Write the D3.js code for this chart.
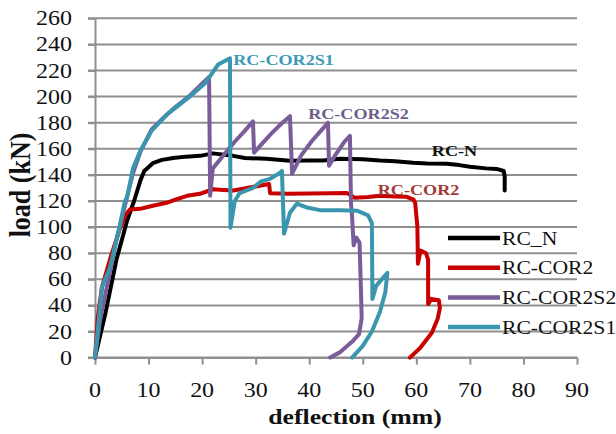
<!DOCTYPE html>
<html>
<head>
<meta charset="utf-8">
<script src="https://cdn.jsdelivr.net/npm/d3@7"></script>
<style>
  body { margin: 0; background: #fff; }
  text { font-family: "Liberation Serif", "Times New Roman", Times, serif; }
</style>
</head>
<body>
<svg width="616" height="434"></svg>
<script>
// deflection (mm), load (kN) pairs
const rcN = [[0,0],[2,35],[4,75],[6,105],[7.3,120],[8.5,136],[9.2,143],[10.8,149],[12.5,151.5],[14.6,153],[17,154],[19.6,154.6],[22,156.5],[25.8,154.6],[28,153],[32,152.3],[36.4,150.8],[40,151],[42.6,151],[45.7,152.3],[50,152],[53.2,151],[56,150.5],[59.4,149.3],[62,148.8],[65.7,148.5],[68,147.5],[70,146.2],[73,145],[75,144.6],[76.3,143],[76.5,139],[76.5,128]];

const rcCor2 = [[0,0],[0.5,30],[1.3,54],[3,78],[4.5,97],[5.8,110],[6.5,113.4],[8.4,114],[10.8,116.4],[13.4,118.6],[15,121],[17.2,124],[19.6,125.5],[22,129],[24,128.5],[25.8,128],[28.4,130],[30.5,131.5],[32.5,133],[32.7,126],[36,125.5],[40,125.8],[44,126],[47,126.2],[48.5,122.5],[51,123],[53.2,124],[56,123.5],[58.2,123.2],[59.5,121],[59.8,118],[60.2,100],[60.3,72],[60.8,82],[61.8,80],[62.2,75],[62.2,41],[62.8,45],[64.2,44],[64.4,38],[64,30],[62.9,19],[60.7,7.3],[58.8,0]];

const rcCor2s2 = [[0,0],[1,30],[2.5,60],[4,90],[5.5,115],[7,140],[8.5,158],[10.6,175],[13.1,185],[15,192],[17.5,200],[19.5,208],[21.3,215],[21.5,124],[22,145],[24,155],[26,165],[28,174],[29.5,181],[29.7,157],[31,163],[33,172],[35,180],[36.4,185],[36.8,141],[38.5,155],[40.5,166],[42,173],[43.5,180],[43.7,147],[45,156],[46.5,165],[47.6,170],[47.8,118],[48,108],[48.3,86],[48.8,92],[49.4,88],[49.6,60],[49.8,30],[49.3,18],[48.2,13],[45.7,4],[43.9,0]];

const rcCor2s1 = [[0,0],[0.5,20],[1.3,54],[2.8,69],[4.3,95],[5.6,120],[6,123],[7.1,145],[8.4,158],[10.6,174],[13.6,187],[14.9,191],[17.4,199],[20.5,210],[23,224.6],[25.2,229.4],[25.3,99.5],[26.1,120],[27,126],[29.5,130],[31,135],[32.7,137],[34.5,141.5],[34.9,143],[35.3,95],[36.4,111],[37.7,118],[39.6,115],[42,113],[45.7,113],[49,112.5],[51,109],[51.7,103],[51.8,45],[52.5,55],[54.6,65],[54.2,50],[53.2,35],[51.7,20],[50,9],[48,0]];

const seriesNames = ["RC_N", "RC-COR2", "RC-COR2S2", "RC-COR2S1"];
const seriesColors = ["#000000", "#c80000", "#7a5c9a", "#3a96ae"];
const seriesData = [rcN, rcCor2, rcCor2s2, rcCor2s1];

// labels written inside the plot
const noteTexts = ["RC-COR2S1", "RC-COR2S2", "RC-N", "RC-COR2"];
const noteAt = [[25.8, 224.5], [39.8, 182.5], [62.9, 154.5], [52.8, 124.5]];
const noteColors = ["#3d9ab3", "#6e5f8c", "#111111", "#a33a3a"];

const xTicks = [0, 10, 20, 30, 40, 50, 60, 70, 80, 90];
const yTicks = [0, 20, 40, 60, 80, 100, 120, 140, 160, 180, 200, 220, 240, 260];

const svg = d3.select("svg");
const sx = 1.17; // the original picture is stretched sideways

const x = d3.scaleLinear().domain([0, 90]).range([95, 577]);
const y = d3.scaleLinear().domain([0, 260]).range([357.6, 18.3]);

svg.append("rect").attr("width", 616).attr("height", 434).attr("fill", "#fff");

function label(g, px, py, str, size, anchor, weight, color, rot) {
  return g.append("text")
    .attr("transform", `translate(${px},${py}) scale(${sx},1)` + (rot ? ` rotate(${rot})` : ""))
    .attr("text-anchor", anchor)
    .style("font-size", size + "px")
    .style("font-weight", weight)
    .style("fill", color)
    .text(str);
}

// gridlines
svg.append("g")
  .selectAll("line")
  .data(yTicks)
  .join("line")
  .attr("x1", 88)
  .attr("x2", x(90))
  .attr("y1", d => y(d))
  .attr("y2", d => y(d))
  .attr("stroke", "#8f8f8f")
  .attr("stroke-width", 2);

// axes
svg.append("g")
  .attr("transform", `translate(${x(0)},0)`)
  .call(d3.axisLeft(y).tickValues(yTicks).tickSize(7).tickSizeOuter(0).tickFormat(""));
svg.append("g")
  .attr("transform", `translate(0,${y(0)})`)
  .call(d3.axisBottom(x).tickValues(xTicks).tickSize(7).tickSizeOuter(0).tickFormat(""));
svg.selectAll(".domain, .tick line")
  .attr("stroke", "#8f8f8f")
  .attr("stroke-width", 2);

const tickG = svg.append("g");
yTicks.forEach(t => label(tickG, 72, y(t) + 7, t, 20.5, "end", "normal", "#111"));
xTicks.forEach(t => label(tickG, x(t), 397, t, 20.5, "middle", "normal", "#111"));

label(svg, 355, 424, "deflection (mm)", 22, "middle", "bold", "#111");
label(svg, 30, 185, "load (kN)", 26, "middle", "bold", "#111", -90);

// curves
const line = d3.line().x(d => x(d[0])).y(d => y(d[1]));
svg.append("g")
  .selectAll("path")
  .data(seriesData)
  .join("path")
  .attr("d", line)
  .attr("fill", "none")
  .attr("stroke", (d, i) => seriesColors[i])
  .attr("stroke-width", 4)
  .attr("stroke-linejoin", "round")
  .attr("stroke-linecap", "round");

// notes in the plot
const noteG = svg.append("g");
noteTexts.forEach((s, i) => {
  label(noteG, x(noteAt[i][0]), y(noteAt[i][1]), s, 15.5, "start", "bold", noteColors[i]);
});

// legend
const legend = svg.append("g");
seriesNames.forEach((s, i) => {
  const ly = 238 + i * 29.7;
  legend.append("line")
    .attr("x1", 448).attr("x2", 500)
    .attr("y1", ly).attr("y2", ly)
    .attr("stroke", seriesColors[i])
    .attr("stroke-width", 4.5);
  label(legend, 502, ly + 6.5, s, 18.5, "start", "normal", "#111");
});
</script>
</body>
</html>
